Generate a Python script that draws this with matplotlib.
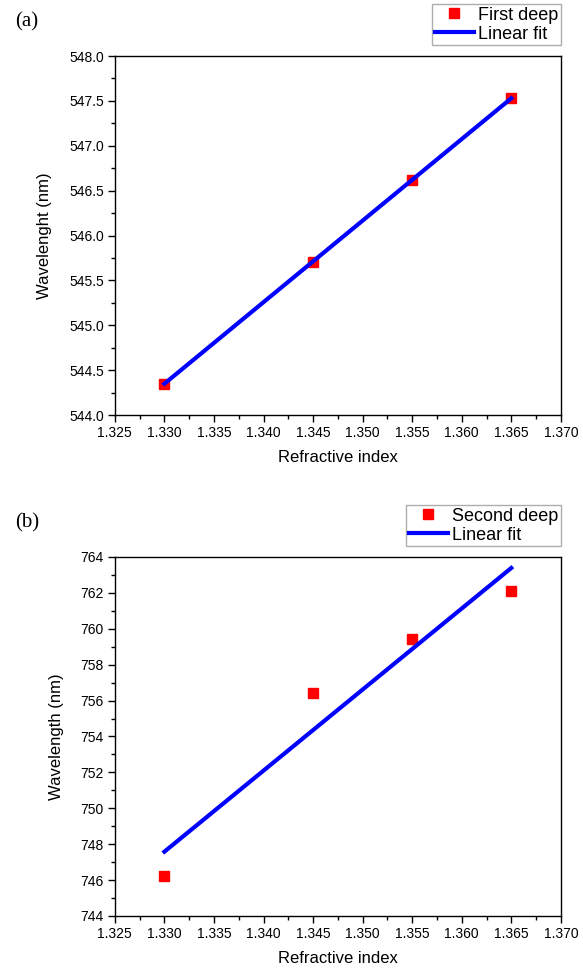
import numpy as np
import matplotlib
matplotlib.use("Agg")
import matplotlib.pyplot as plt
from matplotlib.ticker import MultipleLocator, AutoMinorLocator

plt.rcParams['font.family'] = ['Liberation Sans', 'DejaVu Sans']

# refractive index of the solutions
n_index = [1.330, 1.345, 1.355, 1.365]
# dip wavelengths
first_deep = [544.35, 545.71, 546.62, 547.53]
second_deep = [746.25, 756.40, 759.45, 762.10]

x_ticks = np.arange(1.325, 1.3701, 0.005)


def draw_panel(ax, y, name, ylabel, ylim, ystep, yfmt, tag):
    p = np.polyfit(n_index, y, 1)
    xf = np.array([n_index[0], n_index[-1]])
    ax.plot(n_index, y, 's', color='red', markersize=7, label=name, zorder=2)
    ax.plot(xf, np.polyval(p, xf), color='blue', lw=3, label='Linear fit', zorder=3)
    ax.set_xlim(1.325, 1.370)
    ax.set_ylim(*ylim)
    ax.set_xticks(x_ticks)
    ax.set_xticklabels(['%.3f' % v for v in x_ticks])
    ax.yaxis.set_major_locator(MultipleLocator(ystep))
    ax.yaxis.set_major_formatter(yfmt)
    ax.xaxis.set_minor_locator(AutoMinorLocator(2))
    ax.yaxis.set_minor_locator(AutoMinorLocator(2))
    ax.tick_params(which='both', direction='out', top=False, right=False, labelsize=10)
    ax.tick_params(which='major', length=5, width=1, pad=3)
    ax.tick_params(which='minor', length=3, width=1)
    for s in ax.spines.values():
        s.set_linewidth(1)
    ax.set_xlabel('Refractive index', fontsize=12, labelpad=7)
    ax.set_ylabel(ylabel, fontsize=12, labelpad=12)
    leg = ax.legend(loc='lower right', bbox_to_anchor=(1.0, 1.03), fontsize=13,
                    frameon=True, fancybox=False, edgecolor='#999999',
                    handlelength=2.2, handletextpad=0.2, borderpad=0.15,
                    labelspacing=0.1, borderaxespad=0)
    leg.get_frame().set_linewidth(1)
    ax.text(-0.224, 1.095, tag, transform=ax.transAxes, fontsize=15,
            family='Liberation Serif', va='center', ha='left')


fig = plt.figure(figsize=(5.83, 9.69), dpi=100)
ax1 = fig.add_axes([0.197, 0.5717, 0.765, 0.3705])
ax2 = fig.add_axes([0.197, 0.0547, 0.765, 0.3705])

draw_panel(ax1, first_deep, 'First deep', 'Wavelenght (nm)', (544.0, 548.0), 0.5,
           matplotlib.ticker.FormatStrFormatter('%.1f'), '(a)')
draw_panel(ax2, second_deep, 'Second deep', 'Wavelength (nm)', (744, 764), 2,
           matplotlib.ticker.FormatStrFormatter('%d'), '(b)')

fig.savefig('out.png', dpi=100)
